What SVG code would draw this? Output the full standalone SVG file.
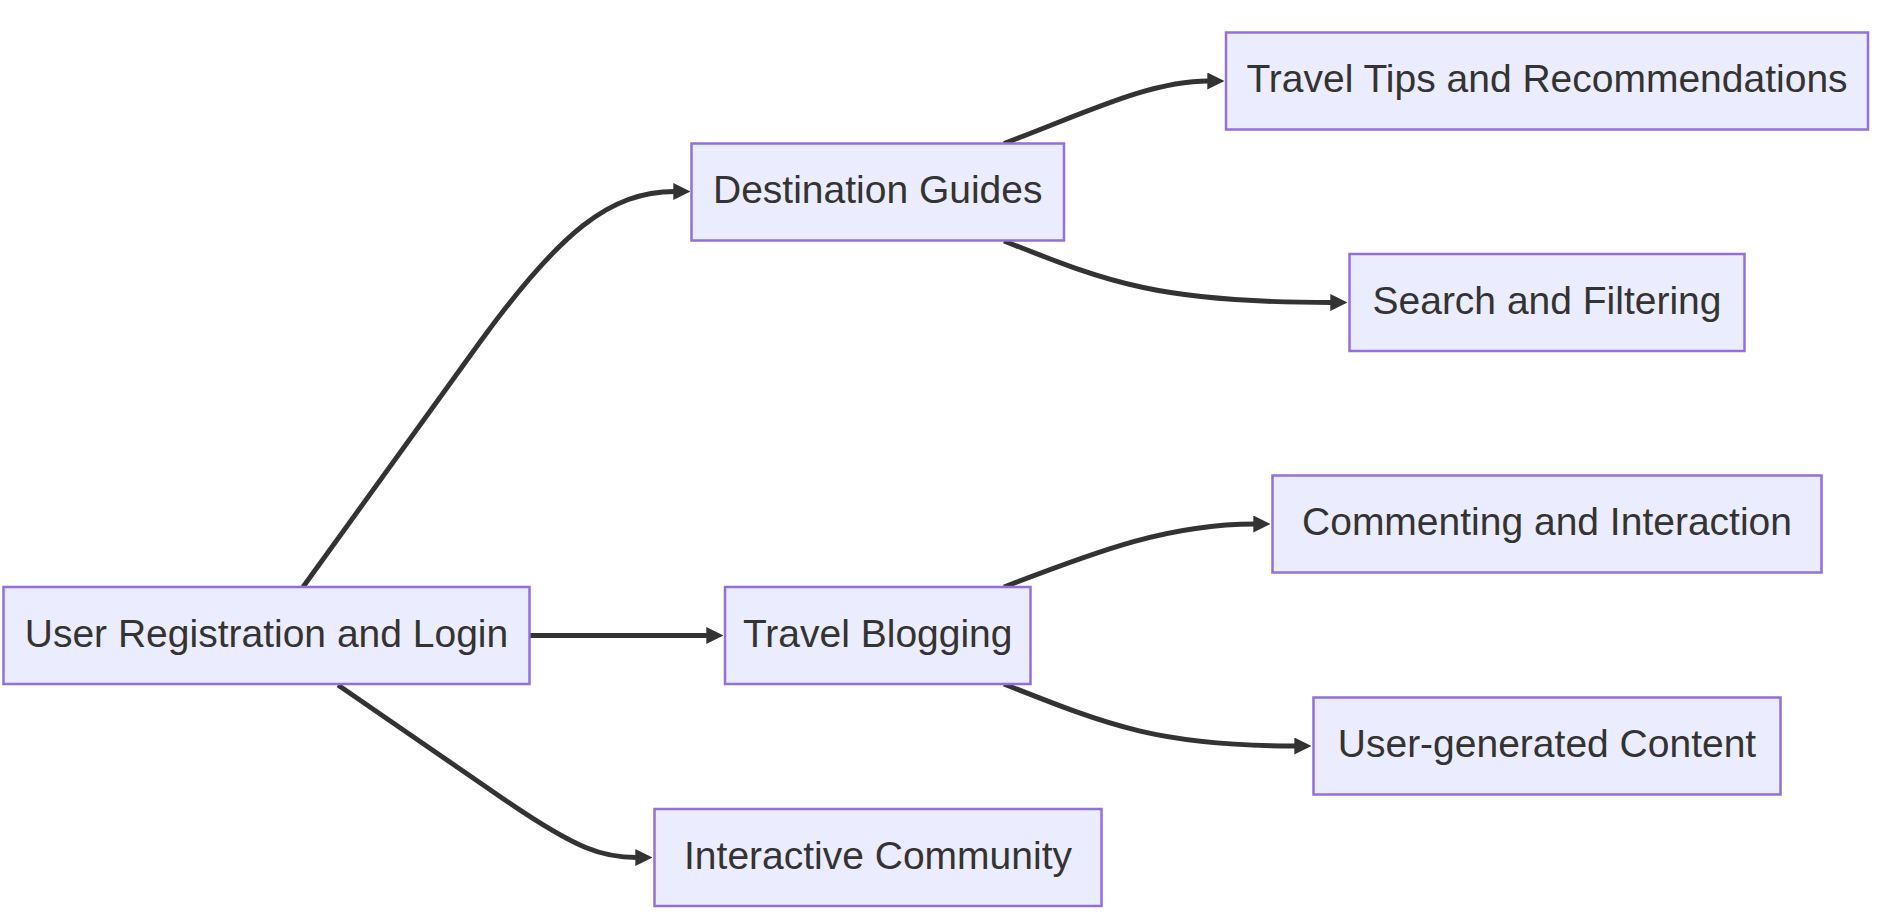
<svg xmlns="http://www.w3.org/2000/svg" width="1879" height="917" viewBox="0 0 1879 917">
<defs>
<style>
.node rect{fill:#ECECFF;stroke:#9370DB;stroke-width:2.5px;}
.node text{font-family:"Liberation Sans",Arial,sans-serif;font-size:39px;fill:#333333;text-anchor:middle;}
.edge{fill:none;stroke:#333333;stroke-width:4.9px;}
</style>
<marker id="arrow" viewBox="0 0 10 10" refX="1" refY="5" markerUnits="userSpaceOnUse" markerWidth="17" markerHeight="17" orient="auto">
<path d="M0,0 L10,5 L0,10 z" fill="#333333"/>
</marker>
</defs>
<rect width="1879" height="917" fill="#ffffff"/>
<g id="connectors">
<path class="edge" marker-end="url(#arrow)" d="M303,587 L480,342 C560,232 610,191.5 675,191.5"/>
<path class="edge" marker-end="url(#arrow)" d="M530,635.5 L708,635.5"/>
<path class="edge" marker-end="url(#arrow)" d="M338,685 L505,800 C578,850 603,857.5 637,857.5"/>
<path class="edge" marker-end="url(#arrow)" d="M1004,143.5 C1090,111 1150,81 1209,81"/>
<path class="edge" marker-end="url(#arrow)" d="M1004,241 C1110,283 1160,302.5 1332,302.5"/>
<path class="edge" marker-end="url(#arrow)" d="M1004,587 C1100,550 1170,524 1255,524"/>
<path class="edge" marker-end="url(#arrow)" d="M1004,684 C1110,726 1160,746 1296,746"/>
</g>
<g id="node-user-registration" class="node">
<rect x="3.5" y="587" width="526" height="97"/>
<text x="266.5" y="646.5">User Registration and Login</text>
</g>
<g id="node-destination-guides" class="node">
<rect x="691.5" y="143.5" width="372.5" height="97"/>
<text x="877.75" y="203">Destination Guides</text>
</g>
<g id="node-travel-blogging" class="node">
<rect x="725" y="587" width="305.5" height="97"/>
<text x="877.75" y="646.5">Travel Blogging</text>
</g>
<g id="node-interactive-community" class="node">
<rect x="654.5" y="809" width="447" height="97"/>
<text x="878" y="868.5">Interactive Community</text>
</g>
<g id="node-travel-tips" class="node">
<rect x="1226" y="32.5" width="642" height="97"/>
<text x="1547" y="92">Travel Tips and Recommendations</text>
</g>
<g id="node-search-filtering" class="node">
<rect x="1349.5" y="254" width="395" height="97"/>
<text x="1547" y="313.5">Search and Filtering</text>
</g>
<g id="node-commenting" class="node">
<rect x="1272.5" y="475.5" width="549" height="97"/>
<text x="1547" y="535">Commenting and Interaction</text>
</g>
<g id="node-user-generated" class="node">
<rect x="1313.5" y="697.5" width="467" height="97"/>
<text x="1547" y="757">User-generated Content</text>
</g>
</svg>
